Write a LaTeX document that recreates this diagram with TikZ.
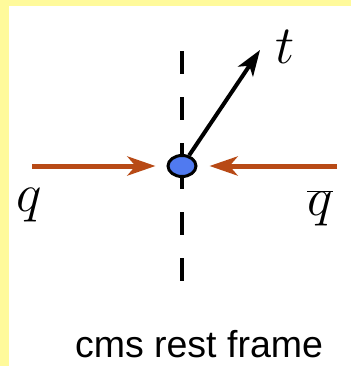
\documentclass[tikz,border=0pt]{standalone}
\usepackage{fix-cm}
\usepackage{fontspec}
\setsansfont{Liberation Sans}
\usetikzlibrary{positioning,arrows.meta,shapes.geometric,backgrounds}
\definecolor{slideyellow}{RGB}{255,250,155}
\definecolor{quarkbrown}{RGB}{184,74,22}
\definecolor{dotblue}{RGB}{80,122,240}

\begin{document}
\begin{tikzpicture}[x=1pt,y=-1pt,
  dot/.style={ellipse, draw, line width=3pt, fill=dotblue, minimum width=28pt, minimum height=21pt, inner sep=0pt},
  axis/.style={line width=4pt, dash pattern=on 23pt off 23pt},
  quark/.style={-{Stealth[length=28pt,width=19pt,inset=8pt]}, line width=5pt, color=quarkbrown},
  top/.style={-{Stealth[length=26pt,width=18pt,inset=7pt]}, line width=4pt},
  lbl/.style={font=\fontsize{54}{60}\selectfont, inner sep=0pt},
  caption/.style={font=\sffamily\fontsize{37.5}{40}\selectfont, inner sep=0pt}]
\useasboundingbox (0,0) rectangle (351,366);
\node[dot] (v) at (182,166) {};
\coordinate (up) at (182,50);
\coordinate (down) at (182,281);
\coordinate (qin) at (32,166);
\coordinate (qbarin) at (337,166);
\coordinate (ttip) at (260,50);
\begin{scope}[on background layer]
% frame of the slide
\fill[slideyellow] (0,0) rectangle (351,366);
\fill[white] (9,6) rectangle (351,366);
\draw[axis] (v.center) -- (up);
\draw[axis] (v.center) -- (down);
\end{scope}
\draw[quark, shorten >=11pt] (qin) -- (v);
\draw[quark, shorten >=12pt] (qbarin) -- (v);
\draw[top] (v) -- (ttip);
\node[lbl] (tlab) at (285,47) {$t$};
\node[lbl] (qlab) at (29,205) {$q$};
\node[lbl] (qbarlab) at (320,208) {$\overline{q}$};
\node[caption, anchor=base] (cap) at (199,357) {cms rest frame};
\end{tikzpicture}
\end{document}
